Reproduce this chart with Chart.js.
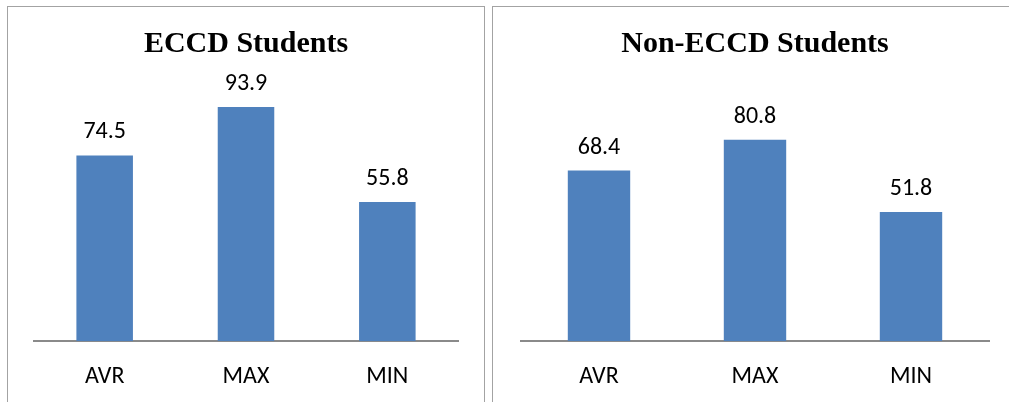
<!DOCTYPE html>
<html>
<head>
<meta charset="utf-8">
<script src="https://cdn.jsdelivr.net/npm/chart.js@4/dist/chart.umd.min.js"></script>
<style>
  html,body{margin:0;padding:0;background:#fff;overflow:hidden}
  body{width:1009px;height:402px;position:relative}
  .panel{position:absolute;border:1px solid #a3a3a3;box-sizing:border-box;background:#fff}
  .panel canvas{position:absolute;left:0;top:0}
</style>
</head>
<body>
<div class="panel" id="panelLeft"  style="left:7px;top:6px;width:478px;height:420px">
  <canvas id="chartEccd" width="476" height="397"></canvas>
</div>
<div class="panel" id="panelRight" style="left:492px;top:6px;width:540px;height:420px">
  <canvas id="chartNonEccd" width="516" height="397"></canvas>
</div>
<script>
// Data
const categories    = ['AVR','MAX','MIN'];
const eccdValues    = [74.5, 93.9, 55.8];
const nonEccdValues = [68.4, 80.8, 51.8];
const titles        = ['ECCD Students','Non-ECCD Students'];
const yRange        = [0, 100];

const BAR_COLOR = '#4f81bd';
const LABEL_FONT = {family:"Carlito, 'Liberation Sans', Arial, sans-serif", size:24};

// value labels above each bar
const valueLabels = {
  id:'valueLabels',
  afterDatasetsDraw(chart) {
    const ctx = chart.ctx;
    const ds = chart.data.datasets[0];
    ctx.save();
    ctx.fillStyle = '#000';
    ctx.font = `${LABEL_FONT.size}px ${LABEL_FONT.family}`;
    ctx.textAlign = 'center';
    ctx.textBaseline = 'alphabetic';
    chart.getDatasetMeta(0).data.forEach((bar,i) => {
      ctx.fillText(ds.data[i].toFixed(1), bar.x, bar.y - 17);
    });
    ctx.restore();
  }
};

function makeChart(id, title, values, padLeft, padRight) {
  return new Chart(document.getElementById(id), {
    type:'bar',
    data:{labels:categories, datasets:[{data:values, backgroundColor:BAR_COLOR,
      barPercentage:0.4, categoryPercentage:1}]},
    options:{responsive:false, animation:false,
      layout:{padding:{left:padLeft, right:padRight, top:0, bottom:0}},
      plugins:{legend:{display:false}, tooltip:{enabled:false},
        title:{display:true, text:title, color:'#000',
          font:{family:"'Liberation Serif', 'Times New Roman', serif", size:30, weight:'bold', lineHeight:1.2},
          padding:{top:19.5, bottom:29.3}}},
      scales:{
        y:{display:false, min:yRange[0], max:yRange[1]},
        x:{grid:{display:false}, border:{display:true, color:'#8a8a8a', width:2},
           ticks:{color:'#000', font:LABEL_FONT, padding:13}}
      }},
    plugins:[valueLabels]
  });
}

makeChart('chartEccd',    titles[0], eccdValues,    26, 26);
makeChart('chartNonEccd', titles[1], nonEccdValues, 28, 20);
</script>
</body>
</html>
